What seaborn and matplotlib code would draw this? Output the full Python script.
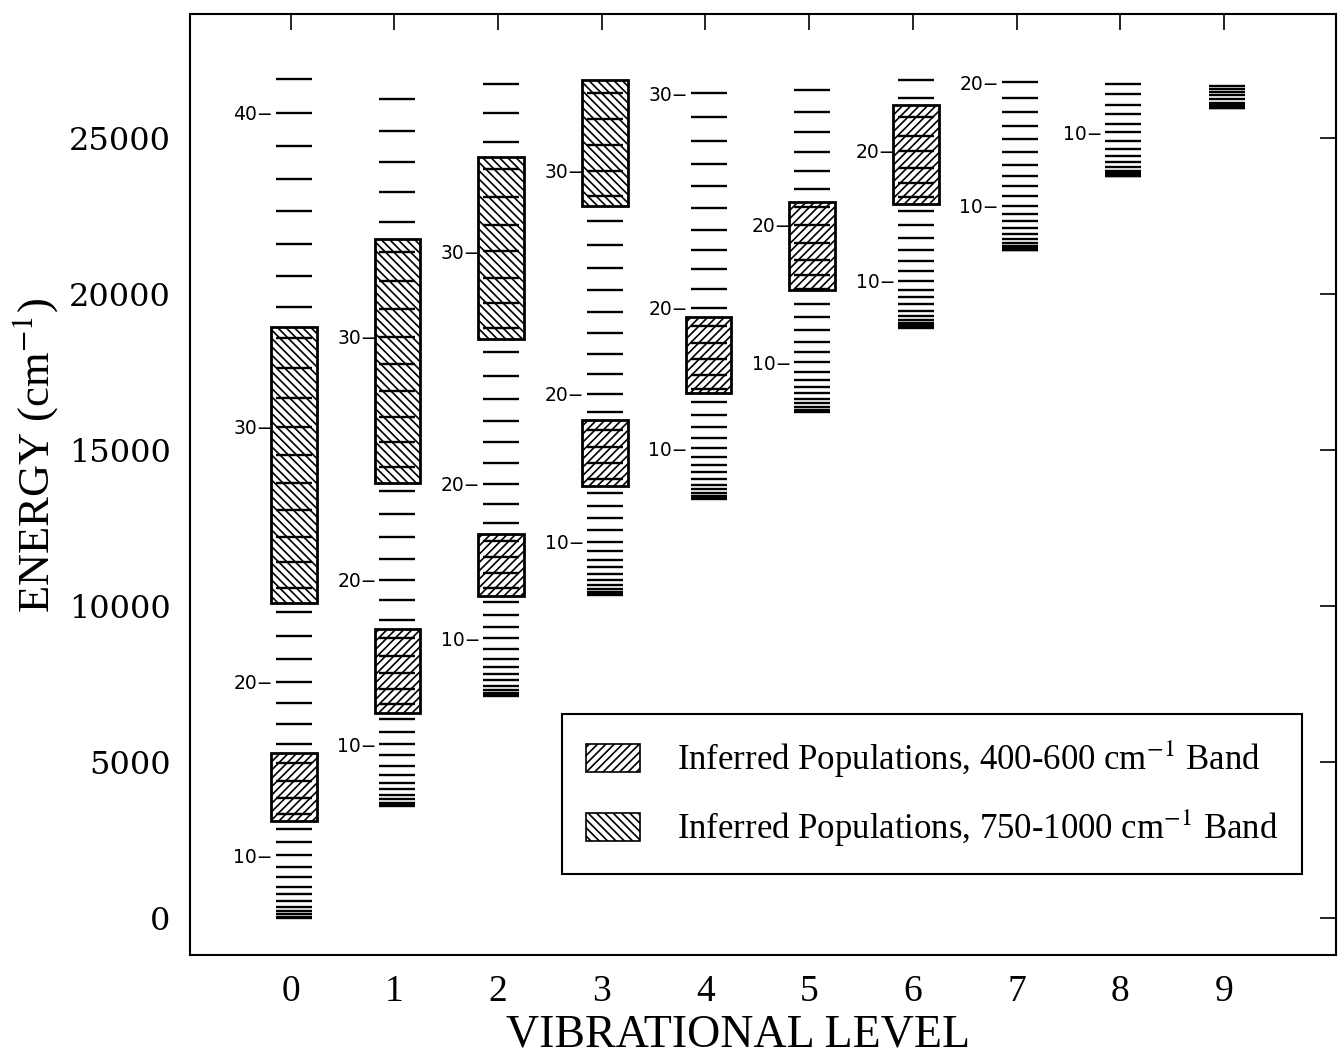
import numpy as np
import pandas as pd
import matplotlib
matplotlib.use("Agg")
import matplotlib.pyplot as plt
from matplotlib.patches import Patch
import seaborn as sns

# Rotational term energies (cm^-1) for each vibrational level, J = 0, 1, 2, ...
levels_v0 = [0, 37, 110, 220, 360, 530, 750, 1000, 1300, 1630,
             2010, 2420, 2850, 3320, 3830, 4380, 4960, 5580, 6220, 6880,
             7570, 8290, 9040, 9800, 10580, 11390, 12220, 13070, 13940, 14830,
             15740, 16670, 17620, 18590, 19580, 20580, 21600, 22640, 23690, 24740,
             25810, 26870]
levels_v1 = [3590, 3625, 3695, 3800, 3940, 4115, 4330, 4580, 4870, 5210,
             5570, 5960, 6380, 6840, 7320, 7840, 8390, 8960, 9560, 10180,
             10830, 11510, 12220, 12950, 13690, 14460, 15240, 16050, 16880, 17740,
             18620, 19510, 20420, 21340, 22290, 23250, 24240, 25230, 26230]
levels_v2 = [7110, 7145, 7210, 7310, 7440, 7610, 7810, 8040, 8310, 8610,
             8960, 9320, 9710, 10130, 10570, 11050, 11560, 12090, 12650, 13270,
             13920, 14580, 15240, 15920, 16620, 17370, 18120, 18900, 19700, 20500,
             21360, 22210, 23100, 23990, 24880, 25810, 26730]
levels_v3 = [10340, 10370, 10430, 10530, 10660, 10820, 11010, 11230, 11480, 11760,
             12060, 12420, 12800, 13210, 13630, 14080, 14570, 15100, 15640, 16200,
             16790, 17430, 18070, 18740, 19410, 20120, 20830, 21580, 22330, 23120,
             23950, 24760, 25600, 26450]
levels_v4 = [13430, 13460, 13520, 13610, 13730, 13880, 14070, 14280, 14520, 14770,
             15050, 15380, 15730, 16110, 16520, 16950, 17410, 17900, 18420, 18980,
             19560, 20160, 20780, 21410, 22060, 22740, 23440, 24160, 24900, 25660,
             26430]
levels_v5 = [16210, 16230, 16280, 16370, 16490, 16640, 16810, 17010, 17240, 17510,
             17800, 18120, 18470, 18850, 19250, 19670, 20170, 20600, 21070, 21630,
             22210, 22780, 23350, 23930, 24530, 25170, 25840, 26540]
levels_v6 = [18920, 18940, 18990, 19060, 19150, 19290, 19460, 19670, 19890, 20130,
             20420, 20720, 21060, 21410, 21790, 22200, 22640, 23100, 23550, 24030,
             24590, 25060, 25660, 26270, 26840]
levels_v7 = [21400, 21420, 21460, 21530, 21630, 21760, 21920, 22110, 22320, 22560,
             22830, 23120, 23440, 23780, 24140, 24530, 24950, 25380, 25820, 26280,
             26780]
levels_v8 = [23760, 23780, 23810, 23860, 23940, 24060, 24220, 24420, 24650, 24900,
             25170, 25450, 25750, 26060, 26390, 26730]
levels_v9 = [25950, 25970, 26000, 26050, 26120, 26240, 26360, 26460, 26560, 26650]

all_levels = [levels_v0, levels_v1, levels_v2, levels_v3, levels_v4,
              levels_v5, levels_v6, levels_v7, levels_v8, levels_v9]

# J values that carry a label on each vibrational ladder
labelled_J = [[10, 20, 30, 40], [10, 20, 30], [10, 20, 30], [10, 20, 30],
              [10, 20, 30], [10, 20], [10, 20], [10, 20], [10], []]

# Inferred population ranges (cm^-1)
band_low_v = [0, 1, 2, 3, 4, 5, 6]
band_low_bottom = [3110, 6580, 10320, 13850, 16820, 20130, 22880]
band_low_top = [5280, 9250, 12310, 15960, 19250, 22930, 26060]

band_high_v = [0, 1, 2, 3]
band_high_bottom = [10080, 13950, 18550, 22800]
band_high_top = [18950, 21760, 24380, 26860]

vib_ticks = list(range(10))
energy_ticks = [0, 5000, 10000, 15000, 20000, 25000]

label_low = r"Inferred Populations, 400-600 cm$^{-1}$ Band"
label_high = r"Inferred Populations, 750-1000 cm$^{-1}$ Band"

sns.set_theme(style="white")
plt.rcParams["font.family"] = ["Liberation Serif", "DejaVu Serif"]
plt.rcParams["mathtext.fontset"] = "stix"
plt.rcParams["hatch.linewidth"] = 1.2
for key in ["text.color", "axes.labelcolor", "xtick.color", "ytick.color",
            "axes.edgecolor"]:
    plt.rcParams[key] = "black"

# long-form table of levels
rows = []
for v, lev in enumerate(all_levels):
    for J, E in enumerate(lev):
        rows.append({"v": v, "J": J, "energy": E})
df = pd.DataFrame(rows)
col_shift = 0.03
df["vpos"] = df["v"] + col_shift

fig = plt.figure(figsize=(13.38, 10.55), dpi=100)
ax = fig.add_axes([0.142, 0.0948, 0.8565, 0.892])

hatch_low = "////"
hatch_high = "\\\\\\\\"

bar_w = 0.44
ax.bar(np.array(band_low_v) + col_shift,
       np.array(band_low_top) - np.array(band_low_bottom),
       bottom=band_low_bottom, width=bar_w, facecolor="white",
       edgecolor="black", linewidth=2.0, hatch=hatch_low, zorder=2)
ax.bar(np.array(band_high_v) + col_shift,
       np.array(band_high_top) - np.array(band_high_bottom),
       bottom=band_high_bottom, width=bar_w, facecolor="white",
       edgecolor="black", linewidth=2.0, hatch=hatch_high, zorder=2)

# each rotational level as a short horizontal dash
sns.scatterplot(data=df, x="vpos", y="energy", marker="_", s=26.0 ** 2,
                color="black", linewidth=1.7, legend=False, ax=ax, zorder=3)

half_line = 0.173
for v, Js in enumerate(labelled_J):
    for J in Js:
        E = all_levels[v][J]
        ax.annotate(f"{J}\u2212", xy=(v + col_shift - half_line, E),
                    xytext=(-2, 0), textcoords="offset points",
                    ha="right", va="center_baseline", fontsize=13.5,
                    family="DejaVu Sans", color="black", zorder=4)

ax.set_xlim(-0.97, 10.08)
ax.set_ylim(-1190, 28970)
ax.set_xticks(vib_ticks)
ax.set_xticklabels([str(t) for t in vib_ticks], fontsize=27,
                   family="Liberation Serif")
ax.set_yticks(energy_ticks)
ax.set_yticklabels([str(t) for t in energy_ticks], fontsize=23,
                   family="DejaVu Serif")
ax.tick_params(axis="both", direction="in", length=11.5, width=1.2,
               top=True, right=True, color="black", labelcolor="black")
ax.tick_params(axis="x", pad=14)
ax.tick_params(axis="y", pad=14)

for sp in ax.spines.values():
    sp.set_visible(True)
    sp.set_color("black")
    sp.set_linewidth(1.5)

ax.set_xlabel("VIBRATIONAL LEVEL", fontsize=33, family="Liberation Serif")
ax.xaxis.set_label_coords(0.478, -0.063)
ax.xaxis.label.set_verticalalignment("top")
ax.set_ylabel(r"ENERGY (cm$^{-1}$)", fontsize=32, family="Liberation Serif")
ax.yaxis.set_label_coords(-0.113, 0.531)

handles = [Patch(facecolor="white", edgecolor="black", linewidth=1.2, hatch=hatch_low),
           Patch(facecolor="white", edgecolor="black", linewidth=1.2, hatch=hatch_high)]
leg = ax.legend(handles, [label_low, label_high], loc="upper left",
                bbox_to_anchor=(0.3246, 0.2561), borderaxespad=0,
                prop={"family": "Liberation Serif", "size": 25},
                handlelength=1.56, handleheight=0.86, handletextpad=1.05,
                labelspacing=0.8, borderpad=0.7, fancybox=False,
                framealpha=1, edgecolor="black")
leg.get_frame().set_linewidth(1.5)

fig.savefig("out.png", dpi=100)
